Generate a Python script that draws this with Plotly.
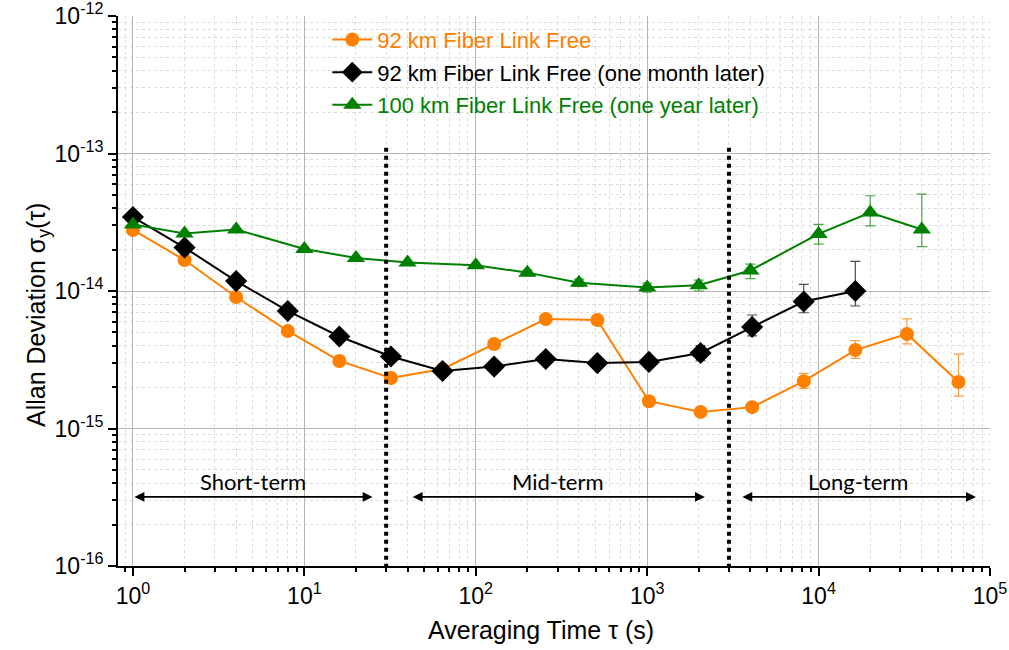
import numpy as np
import plotly.graph_objects as go

# ---- data ----
tau_a = [1, 2, 4, 8, 16, 32, 64, 128, 256, 512, 1024, 2048, 4096, 8192, 16384, 32768, 65536]
adev_a = [2.78e-14, 1.68e-14, 9.04e-15, 5.12e-15, 3.10e-15, 2.33e-15, 2.71e-15, 4.12e-15, 6.25e-15,
          6.15e-15, 1.58e-15, 1.32e-15, 1.43e-15, 2.21e-15, 3.72e-15, 4.87e-15, 2.18e-15]
err_up_a = [0, 0, 0, 0, 0, 0, 0, 0, 0, 0, 0.04e-15, 0.05e-15, 0.07e-15, 0.31e-15, 0.63e-15, 1.39e-15, 1.29e-15]
err_dn_a = [0, 0, 0, 0, 0, 0, 0, 0, 0, 0, 0.04e-15, 0.05e-15, 0.06e-15, 0.25e-15, 0.48e-15, 0.75e-15, 0.46e-15]

tau_b = [1, 2, 4, 8, 16, 32, 64, 128, 256, 512, 1024, 2048, 4096, 8192, 16384]
adev_b = [3.45e-14, 2.07e-14, 1.18e-14, 7.16e-15, 4.67e-15, 3.34e-15, 2.62e-15, 2.82e-15, 3.20e-15,
          2.99e-15, 3.05e-15, 3.54e-15, 5.47e-15, 8.39e-15, 1.00e-14]
err_up_b = [0, 0, 0, 0, 0, 0, 0, 0, 0, 0, 0.25e-15, 0.46e-15, 1.22e-15, 2.8e-15, 6.4e-15]
err_dn_b = [0, 0, 0, 0, 0, 0, 0, 0, 0, 0, 0.22e-15, 0.43e-15, 0.76e-15, 1.44e-15, 2.22e-15]

tau_c = [1, 2, 4, 10, 20, 40, 100, 200, 400, 1000, 2000, 4000, 10000, 20000, 40000]
adev_c = [3.05e-14, 2.62e-14, 2.80e-14, 2.02e-14, 1.74e-14, 1.61e-14, 1.54e-14, 1.36e-14, 1.15e-14,
          1.06e-14, 1.10e-14, 1.41e-14, 2.60e-14, 3.72e-14, 2.80e-14]
err_up_c = [0, 0, 0, 0, 0, 0, 0, 0.06e-14, 0.07e-14, 0.08e-14, 0.1e-14, 0.16e-14, 0.45e-14, 1.21e-14, 2.27e-14]
err_dn_c = [0, 0, 0, 0, 0, 0, 0, 0.06e-14, 0.07e-14, 0.08e-14, 0.1e-14, 0.18e-14, 0.41e-14, 0.74e-14, 0.70e-14]

names = ["92 km Fiber Link Free", "92 km Fiber Link Free (one month later)",
         "100 km Fiber Link Free (one year later)"]

# region boundaries and labels
boundary_tau = [30, 3000]
boundary_top = 1.1e-13
axis_bottom = 1e-16
regions = ["Short-term", "Mid-term", "Long-term"]
region_start = [1, 42, 3520]
region_end = [25, 2170, 82800]
arrow_y = 3.18e-16
label_y = 4.15e-16

xtick_exp = [0, 1, 2, 3, 4, 5]
ytick_exp = [-16, -15, -14, -13, -12]

x_title = "Averaging Time τ (s)"
y_title = "Allan Deviation σ<sub>y</sub>(τ)"

ORANGE = "#FF8000"
GREEN = "#008000"
BLACK = "#000000"

fig = go.Figure()

specs = [
    (tau_a, adev_a, err_up_a, err_dn_a, ORANGE, "circle", 14, "rgba(255,128,0,0.75)"),
    (tau_b, adev_b, err_up_b, err_dn_b, BLACK, "diamond", 17, "rgba(0,0,0,0.7)"),
    (tau_c, adev_c, err_up_c, err_dn_c, GREEN, "triangle-up", 16, "rgba(0,128,0,0.7)"),
]
for i, (tx, ty, eu, ed, col, sym, sz, ecol) in enumerate(specs):
    fig.add_trace(go.Scatter(
        x=tx, y=ty, mode="lines+markers",
        name=f"<span style='color:{col}'>{names[i]}</span>",
        legendgroup=f"g{i}",
        line=dict(color=col, width=2),
        marker=dict(symbol=sym, size=sz, color=col, line=dict(width=0)),
        error_y=dict(type="data", symmetric=False, array=eu, arrayminus=ed,
                     color=ecol, thickness=1.2, width=5),
    ))

# vertical dotted boundaries
for b in boundary_tau:
    fig.add_trace(go.Scatter(
        x=[b, b], y=[boundary_top, axis_bottom], mode="lines",
        line=dict(color="black", width=4, dash="4px,4px"),
        showlegend=False, hoverinfo="skip",
    ))

# double-headed arrows and labels
for name, s, e in zip(regions, region_start, region_end):
    fig.add_annotation(
        x=np.log10(e), y=np.log10(arrow_y), ax=np.log10(s), ay=np.log10(arrow_y),
        xref="x", yref="y", axref="x", ayref="y",
        text="", showarrow=True, arrowhead=2, arrowside="end+start",
        arrowsize=1.1, arrowwidth=1.8, arrowcolor="black", standoff=0, startstandoff=0,
    )
    fig.add_annotation(
        x=(np.log10(s) + np.log10(e)) / 2, y=np.log10(label_y),
        xref="x", yref="y", text=name, showarrow=False,
        font=dict(family="Lato, Liberation Sans", size=22, color="black"),
    )

grid_major = "#B4B4B4"
grid_minor = "#DCDCDC"
tick_font = dict(family="Liberation Sans, Arial", size=23, color="black")
title_font = dict(family="Liberation Sans, Arial", size=25, color="black")

# axis titles as annotations (placed like the reference, slightly off-centre)
fig.add_annotation(x=0.485, y=-0.116, xref="paper", yref="paper", text=x_title,
                   showarrow=False, xanchor="center", yanchor="middle", font=title_font)
fig.add_annotation(x=-0.092, y=0.456, xref="paper", yref="paper", text=y_title,
                   showarrow=False, xanchor="center", yanchor="middle", textangle=-90, font=title_font)

fig.update_xaxes(
    type="log", range=[np.log10(0.818), 5], automargin=False,
    tickmode="array", tickvals=[10 ** e for e in xtick_exp],
    ticktext=[f"10<sup>{e}</sup>" for e in xtick_exp],
    ticks="outside", ticklen=8, tickwidth=2, tickcolor="black",
    showline=True, linewidth=2, linecolor="black", mirror=False,
    showgrid=True, gridcolor=grid_major, gridwidth=1,
    minor=dict(dtick="D1", ticks="outside", ticklen=4, tickwidth=1.5, tickcolor="black",
               showgrid=True, gridcolor=grid_minor, griddash="dot", gridwidth=1),
    tickfont=tick_font, ticklabeloverflow="allow",
    zeroline=False,
)
fig.update_yaxes(
    type="log", range=[-16, -12], automargin=False,
    tickmode="array", tickvals=[10.0 ** e for e in ytick_exp],
    ticktext=[f"10<sup>{e}</sup>" for e in ytick_exp],
    ticks="outside", ticklen=8, tickwidth=2, tickcolor="black",
    showline=True, linewidth=2, linecolor="black", mirror=False,
    showgrid=True, gridcolor=grid_major, gridwidth=1,
    minor=dict(dtick="D1", ticks="outside", ticklen=4, tickwidth=1.5, tickcolor="black",
               showgrid=True, gridcolor=grid_minor, griddash="dot", gridwidth=1),
    tickfont=tick_font, ticklabeloverflow="allow",
    zeroline=False,
)

fig.update_layout(
    width=1009, height=650,
    margin=dict(l=118, r=19, t=16, b=84),
    paper_bgcolor="white", plot_bgcolor="white",
    showlegend=True,
    legend=dict(x=0.240, y=0.995, xanchor="left", yanchor="top",
                bgcolor="rgba(0,0,0,0)", borderwidth=0,
                font=dict(family="Liberation Sans, Arial", size=22),
                tracegroupgap=1, itemwidth=40),
)

# remove the default 8px page margin so the figure fills the window exactly
fig.write_html("out.html",
               config={"displayModeBar": False},
               post_script="document.body.style.margin='0px';document.body.style.overflow='hidden';")
